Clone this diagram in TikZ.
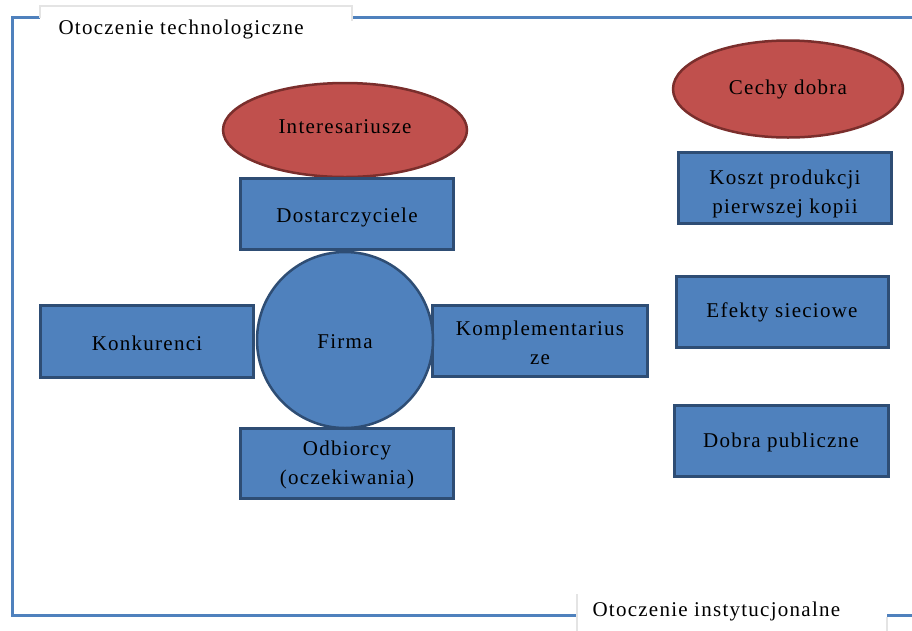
\documentclass[tikz,border=0pt]{standalone}
\usepackage{fontspec}
\setmainfont{Liberation Serif}[LetterSpace=6]
\usetikzlibrary{shapes.geometric}
\definecolor{boxfill}{HTML}{4F81BD}
\definecolor{boxline}{HTML}{2E4D74}
\definecolor{ovalfill}{HTML}{C0504D}
\definecolor{ovalline}{HTML}{7A2E2C}
\definecolor{framecol}{HTML}{4F81BD}
\definecolor{tabline}{HTML}{E4E4E4}
\tikzset{
  txt/.style={font=\fontsize{21}{29}\selectfont, text=black, align=center},
  bluebox/.style={draw=boxline, fill=boxfill, line width=3pt, rectangle, inner sep=0pt},
  oval/.style={draw=ovalline, fill=ovalfill, line width=2.5pt, ellipse, inner sep=0pt},
  hub/.style={draw=boxline, fill=boxfill, line width=2.5pt, circle, inner sep=0pt},
  frameline/.style={draw=framecol, line width=3pt},
  tabedge/.style={draw=tabline, line width=1.5pt},
}
\begin{document}
\begin{tikzpicture}[x=1pt, y=-1pt]
\useasboundingbox (0,0) rectangle (912,630);
\fill[white] (0,0) rectangle (912,630);

% outer frame of the environment
\draw[frameline] (914,17) -- (12,17) -- (12,615) -- (914,615);

% label tabs
\fill[white] (40,6) rectangle (352,40);
\draw[tabedge] (40,18) -- (40,6) -- (352,6) -- (352,21);
\node[txt, anchor=west] (tech) at (55,29) {Otoczenie technologiczne};

\fill[white] (577,596) rectangle (887,640);
\draw[tabedge] (577,594) -- (577,632);
\draw[tabedge] (887,617) -- (887,632);
\node[txt, anchor=west] (inst) at (589,611) {Otoczenie instytucjonalne};

% stakeholders around the firm
\node[oval, minimum width=244pt, minimum height=94pt] (inter) at (345,130) {};
\node[txt] at (345,127) {Interesariusze};

\node[bluebox, minimum width=213pt, minimum height=71pt] (dost) at (347,214) {};
\node[txt] at (347,217) {Dostarczyciele};

\node[bluebox, minimum width=213pt, minimum height=72pt] (konk) at (147,341) {};
\node[txt] at (147,343) {Konkurenci};

\node[bluebox, minimum width=215pt, minimum height=71pt] (kompl) at (540,341) {};
\node[txt] at (540,343) {Komplementarius\\ze};

\node[bluebox, minimum width=213pt, minimum height=70pt] (odb) at (347,463) {};
\node[txt] at (347,465) {Odbiorcy\\(oczekiwania)};

\node[hub, minimum size=176pt] (firma) at (345,340) {};
\node[txt] at (345,342) {Firma};

% features of the good
\node[oval, minimum width=230pt, minimum height=97pt] (cechy) at (788,89) {};
\node[txt] at (788,89) {Cechy dobra};

\node[bluebox, minimum width=213pt, minimum height=71pt] (koszt) at (785,188) {};
\begin{scope}
  \clip (679.5,153.5) rectangle (890.5,222.5);
  \node[txt] at (785,194) {Koszt produkcji\\pierwszej kopii};
\end{scope}

\node[bluebox, minimum width=212pt, minimum height=71pt] (efekty) at (782,312) {};
\node[txt] at (782,312) {Efekty sieciowe};

\node[bluebox, minimum width=214pt, minimum height=71pt] (publ) at (781,441) {};
\node[txt] at (781,442) {Dobra publiczne};
\end{tikzpicture}
\end{document}
